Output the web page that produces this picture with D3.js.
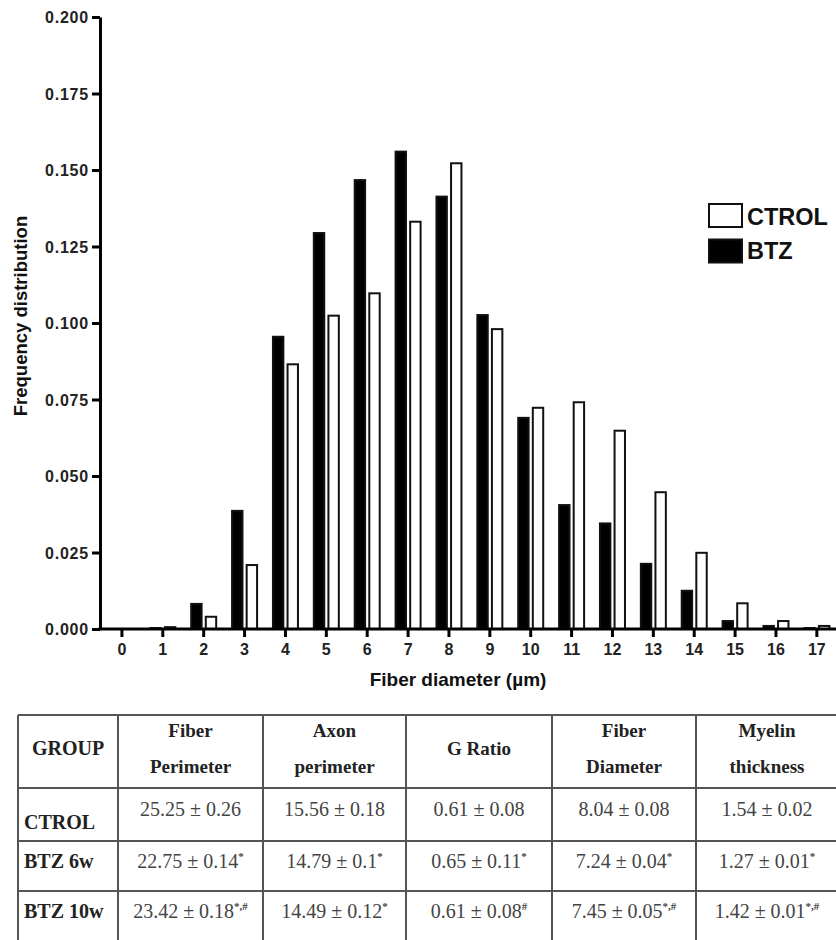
<!DOCTYPE html>
<html>
<head>
<meta charset="utf-8">
<script src="https://cdn.jsdelivr.net/npm/d3@7/dist/d3.min.js"></script>
<style>
  html, body { margin: 0; padding: 0; background: #fff; }
  svg { display: block; }
</style>
</head>
<body>
<svg id="chart" width="836" height="940"></svg>
<script>
// ---------- DATA ----------
const categories = [0,1,2,3,4,5,6,7,8,9,10,11,12,13,14,15,16,17];
const btzValues   = [0, 0.0003, 0.0082, 0.0386, 0.0955, 0.1294, 0.1467, 0.1560, 0.1413, 0.1026, 0.0690, 0.0405, 0.0345, 0.0213, 0.0125, 0.0026, 0.0010, 0.0003];
const ctrolValues = [0, 0.0006, 0.0040, 0.0209, 0.0865, 0.1024, 0.1097, 0.1331, 0.1522, 0.0980, 0.0723, 0.0741, 0.0648, 0.0447, 0.0249, 0.0084, 0.0026, 0.0010];
const seriesNames = ["CTROL", "BTZ"];
const yTicks = [0, 0.025, 0.05, 0.075, 0.1, 0.125, 0.15, 0.175, 0.2];
const yLabel = "Frequency distribution";
const xLabel = "Fiber diameter (\u00B5m)";

const tableHeaders = [["GROUP"], ["Fiber", "Perimeter"], ["Axon", "perimeter"], ["G Ratio"], ["Fiber", "Diameter"], ["Myelin", "thickness"]];
const tableGroups = ["CTROL", "BTZ 6w", "BTZ 10w"];
const tableValues = [
  ["25.25  \u00B1 0.26", "15.56 \u00B1 0.18", "0.61 \u00B1 0.08", "8.04 \u00B1 0.08", "1.54 \u00B1 0.02"],
  ["22.75 \u00B1 0.14", "14.79 \u00B1 0.1", "0.65 \u00B1 0.11", "7.24 \u00B1 0.04", "1.27 \u00B1 0.01"],
  ["23.42 \u00B1 0.18", "14.49 \u00B1 0.12", "0.61 \u00B1 0.08", "7.45 \u00B1 0.05", "1.42 \u00B1 0.01"]
];
const tableMarks = [
  ["", "", "", "", ""],
  ["*", "*", "*", "*", "*"],
  ["*,#", "*", "#", "*,#", "*,#"]
];

// ---------- LAYOUT ----------
const svg = d3.select("#chart");
const sans = "'Liberation Sans', Arial, sans-serif";
const serif = "'Liberation Serif', 'Times New Roman', serif";

const x0 = d3.scaleBand().domain(categories).range([101.5, 837.3]).paddingInner(0).paddingOuter(0);
const x1 = d3.scaleBand().domain(["BTZ", "CTROL"]).range([0, 27]).paddingInner(0.15);
const y = d3.scaleLinear().domain([0, 0.2]).range([629, 17]);

const g = svg.append("g");

// bars
const data = categories.map((c, i) => ({c, BTZ: btzValues[i], CTROL: ctrolValues[i]}));
const groups = g.selectAll("g.grp").data(data).enter().append("g")
  .attr("transform", d => `translate(${x0(d.c) + x0.bandwidth()/2 - 13.5},0)`);
groups.selectAll("rect").data(d => ["BTZ", "CTROL"].map(k => ({k, v: d[k]}))).enter().append("rect")
  .attr("x", d => x1(d.k) + 1)
  .attr("width", x1.bandwidth() - 2)
  .attr("y", d => y(d.v))
  .attr("height", d => y(0) - y(d.v))
  .attr("fill", d => d.k === "BTZ" ? "#000" : "#fff")
  .attr("stroke", "#111")
  .attr("stroke-width", 2);

// y axis
const yAxis = g.append("g").attr("transform", "translate(100,0)")
  .call(d3.axisLeft(y).tickValues(yTicks).tickFormat(d3.format(".3f")).tickSize(8).tickSizeOuter(0));
yAxis.select(".domain").attr("stroke", "#000").attr("stroke-width", 3);
yAxis.selectAll(".tick line").attr("stroke", "#000").attr("stroke-width", 3);
yAxis.selectAll(".tick text").attr("font-family", sans).attr("font-weight", "bold")
  .attr("font-size", 16).attr("letter-spacing", "0.8px").attr("fill", "#222").attr("x", -11).attr("dy", "0.35em");

// x axis
const xAxis = g.append("g").attr("transform", `translate(0,${y(0)})`)
  .call(d3.axisBottom(x0).tickSize(8).tickSizeOuter(0));
xAxis.select(".domain").attr("stroke", "#000").attr("stroke-width", 3).attr("d", "M98.5,0H836");
xAxis.selectAll(".tick line").attr("stroke", "#000").attr("stroke-width", 3);
xAxis.selectAll(".tick text").attr("font-family", sans).attr("font-weight", "bold")
  .attr("font-size", 16).attr("fill", "#222").attr("y", 15);

// axis titles
g.append("text").attr("transform", "translate(27,316) rotate(-90)")
  .attr("text-anchor", "middle").attr("font-family", sans).attr("font-weight", "bold")
  .attr("font-size", 18.5).attr("fill", "#111").text(yLabel);
g.append("text").attr("x", 458).attr("y", 686)
  .attr("text-anchor", "middle").attr("font-family", sans).attr("font-weight", "bold")
  .attr("font-size", 19).attr("fill", "#111").text(xLabel);

// legend
const legend = g.append("g");
seriesNames.forEach((name, i) => {
  legend.append("rect").attr("x", 709).attr("y", 204 + i * 35.5).attr("width", 33).attr("height", 23)
    .attr("fill", name === "BTZ" ? "#000" : "#fff").attr("stroke", "#111").attr("stroke-width", 2);
  legend.append("text").attr("x", 747).attr("y", 225 + i * 33.5)
    .attr("font-family", sans).attr("font-weight", "bold").attr("font-size", 23.5)
    .attr("fill", "#111").text(name);
});

// ---------- TABLE ----------
const colX = [18, 118, 263, 406, 552, 696, 838];
const rowY = [715, 788, 841, 891, 945];
const t = svg.append("g");
const lineColor = "#555";
rowY.forEach(yy => t.append("line").attr("x1", colX[0]).attr("x2", colX[colX.length-1])
  .attr("y1", yy).attr("y2", yy).attr("stroke", lineColor).attr("stroke-width", 2));
colX.forEach(xx => t.append("line").attr("x1", xx).attr("x2", xx)
  .attr("y1", rowY[0]).attr("y2", rowY[rowY.length-1]).attr("stroke", lineColor).attr("stroke-width", 2));

const colCenter = i => (colX[i] + colX[i+1]) / 2;
tableHeaders.forEach((lines, i) => {
  const cx = colCenter(i);
  const ys = lines.length === 1 ? [755] : [737, 773];
  lines.forEach((ln, j) => {
    t.append("text").attr("x", cx).attr("y", ys[j]).attr("text-anchor", "middle")
      .attr("font-family", serif).attr("font-weight", "bold").attr("font-size", i === 0 ? 20 : 19)
      .attr("fill", "#222").text(ln);
  });
});

const rowLabelY = [829, 868, 918];
const rowValueY = [816, 868, 918];
tableGroups.forEach((grp, r) => {
  t.append("text").attr("x", 24).attr("y", rowLabelY[r])
    .attr("font-family", serif).attr("font-weight", "bold").attr("font-size", 20)
    .attr("fill", "#222").text(grp);
  tableValues[r].forEach((val, c) => {
    const txt = t.append("text").attr("x", colCenter(c + 1)).attr("y", rowValueY[r])
      .attr("text-anchor", "middle").attr("font-family", serif).attr("font-size", 20)
      .attr("fill", "#444");
    txt.append("tspan").text(val);
    if (tableMarks[r][c]) {
      txt.append("tspan").attr("dy", -8).attr("font-size", 11).attr("font-weight", "bold").text(tableMarks[r][c]);
    }
  });
});
</script>
</body>
</html>
